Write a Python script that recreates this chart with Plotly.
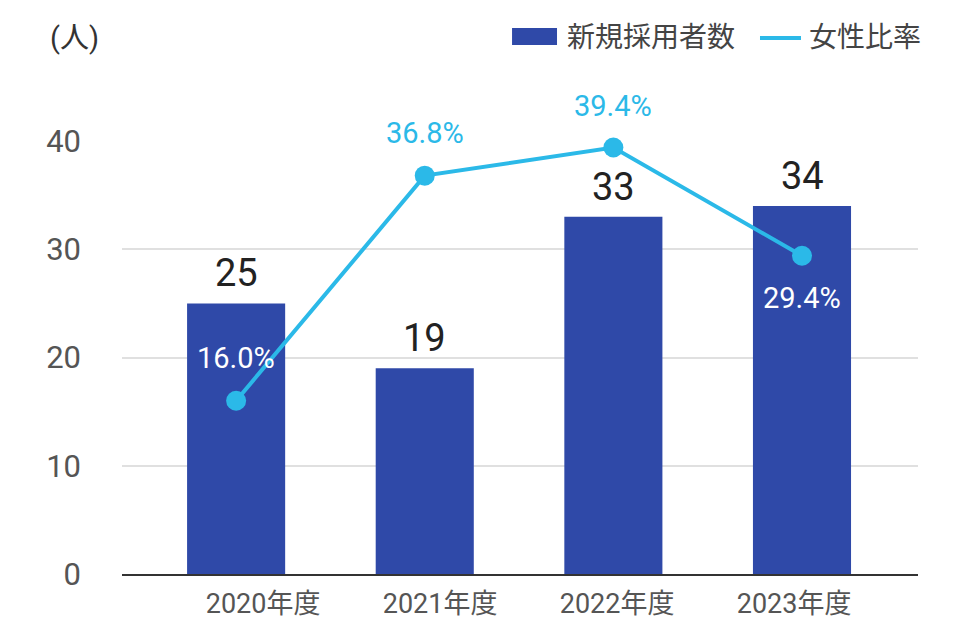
import plotly.graph_objects as go

categories = ["2020年度", "2021年度", "2022年度", "2023年度"]
hires = [25, 19, 33, 34]
female_ratio = [16.0, 36.8, 39.4, 29.4]
ratio_labels = ["16.0%", "36.8%", "39.4%", "29.4%"]
y_ticks = [0, 10, 20, 30, 40]
legend_names = ["新規採用者数", "女性比率"]

BAR = "#2f49a8"
LINE = "#2bb9e8"
FONT = "Roboto, 'Noto Sans CJK JP', sans-serif"

fig = go.Figure()
fig.add_trace(go.Bar(
    x=categories, y=hires, name=legend_names[0],
    marker=dict(color=BAR, line=dict(width=0)), width=0.52,
))
fig.add_trace(go.Scatter(
    x=categories, y=female_ratio, name=legend_names[1], mode="lines+markers",
    line=dict(color=LINE, width=4), marker=dict(color=LINE, size=20),
    cliponaxis=False,
))
# empty helper trace so the label axis (x2) is rendered
fig.add_trace(go.Scatter(
    x=list(range(len(categories))), y=[None] * len(categories), xaxis="x2",
    mode="markers", showlegend=False, hoverinfo="skip",
))

# bar value labels
for c, v in zip(categories, hires):
    fig.add_annotation(x=c, y=v, text=str(v), showarrow=False, yanchor="bottom",
                       yshift=6, font=dict(family=FONT, size=38, color="#222222"))

# ratio labels
shifts = [43, 43, 42, -42]
colors = ["#ffffff", LINE, LINE, "#ffffff"]
for c, v, t, s, col in zip(categories, female_ratio, ratio_labels, shifts, colors):
    fig.add_annotation(x=c, y=v, text=t, showarrow=False, yanchor="middle",
                       yshift=s, font=dict(family=FONT, size=29, color=col))

# unit label
fig.add_annotation(xref="paper", yref="paper", x=-0.093, y=1.238, xanchor="left",
                   yanchor="middle", text="(人)", showarrow=False,
                   font=dict(family=FONT, size=29, color="#333333"))

# custom legend
fig.add_shape(type="rect", xref="paper", yref="paper", x0=0.490, x1=0.5465,
              y0=1.2217, y1=1.261, fillcolor=BAR, line=dict(width=0))
fig.add_annotation(xref="paper", yref="paper", x=0.557, y=1.238, xanchor="left",
                   yanchor="middle", text=legend_names[0], showarrow=False,
                   font=dict(family=FONT, size=28, color="#444444"))
fig.add_shape(type="line", xref="paper", yref="paper", x0=0.8015, x1=0.853,
              y0=1.238, y1=1.238, line=dict(color=LINE, width=4))
fig.add_annotation(xref="paper", yref="paper", x=0.861, y=1.238, xanchor="left",
                   yanchor="middle", text=legend_names[1], showarrow=False,
                   font=dict(family=FONT, size=28, color="#444444"))

fig.update_layout(
    width=968, height=640,
    margin=dict(l=114, r=58, t=133, b=74, autoexpand=False),
    plot_bgcolor="white", paper_bgcolor="white",
    font=dict(family=FONT),
    showlegend=False,
    xaxis=dict(range=[-0.605, 3.615], showgrid=False, showline=True,
               linecolor="#333333", linewidth=2, ticks="", automargin=False,
               showticklabels=False),
    # category labels in the reference sit on a slightly narrower spacing
    xaxis2=dict(overlaying="x", anchor="y", side="bottom", type="linear",
                range=[-0.797, 3.70], tickvals=list(range(len(categories))),
                ticktext=categories, showgrid=False, showline=False,
                zeroline=False, ticks="", automargin=False,
                tickfont=dict(family=FONT, size=27, color="#555555"),
                ticklabelstandoff=11),
    yaxis=dict(range=[0, 40], tickvals=y_ticks, showgrid=True,
               gridcolor="#e0e0e0", gridwidth=2, zeroline=False, showline=False,
               ticks="", automargin=False,
               tickfont=dict(family=FONT, size=31, color="#555555"),
               ticklabelstandoff=40),
)

fig.write_html("out.html")
